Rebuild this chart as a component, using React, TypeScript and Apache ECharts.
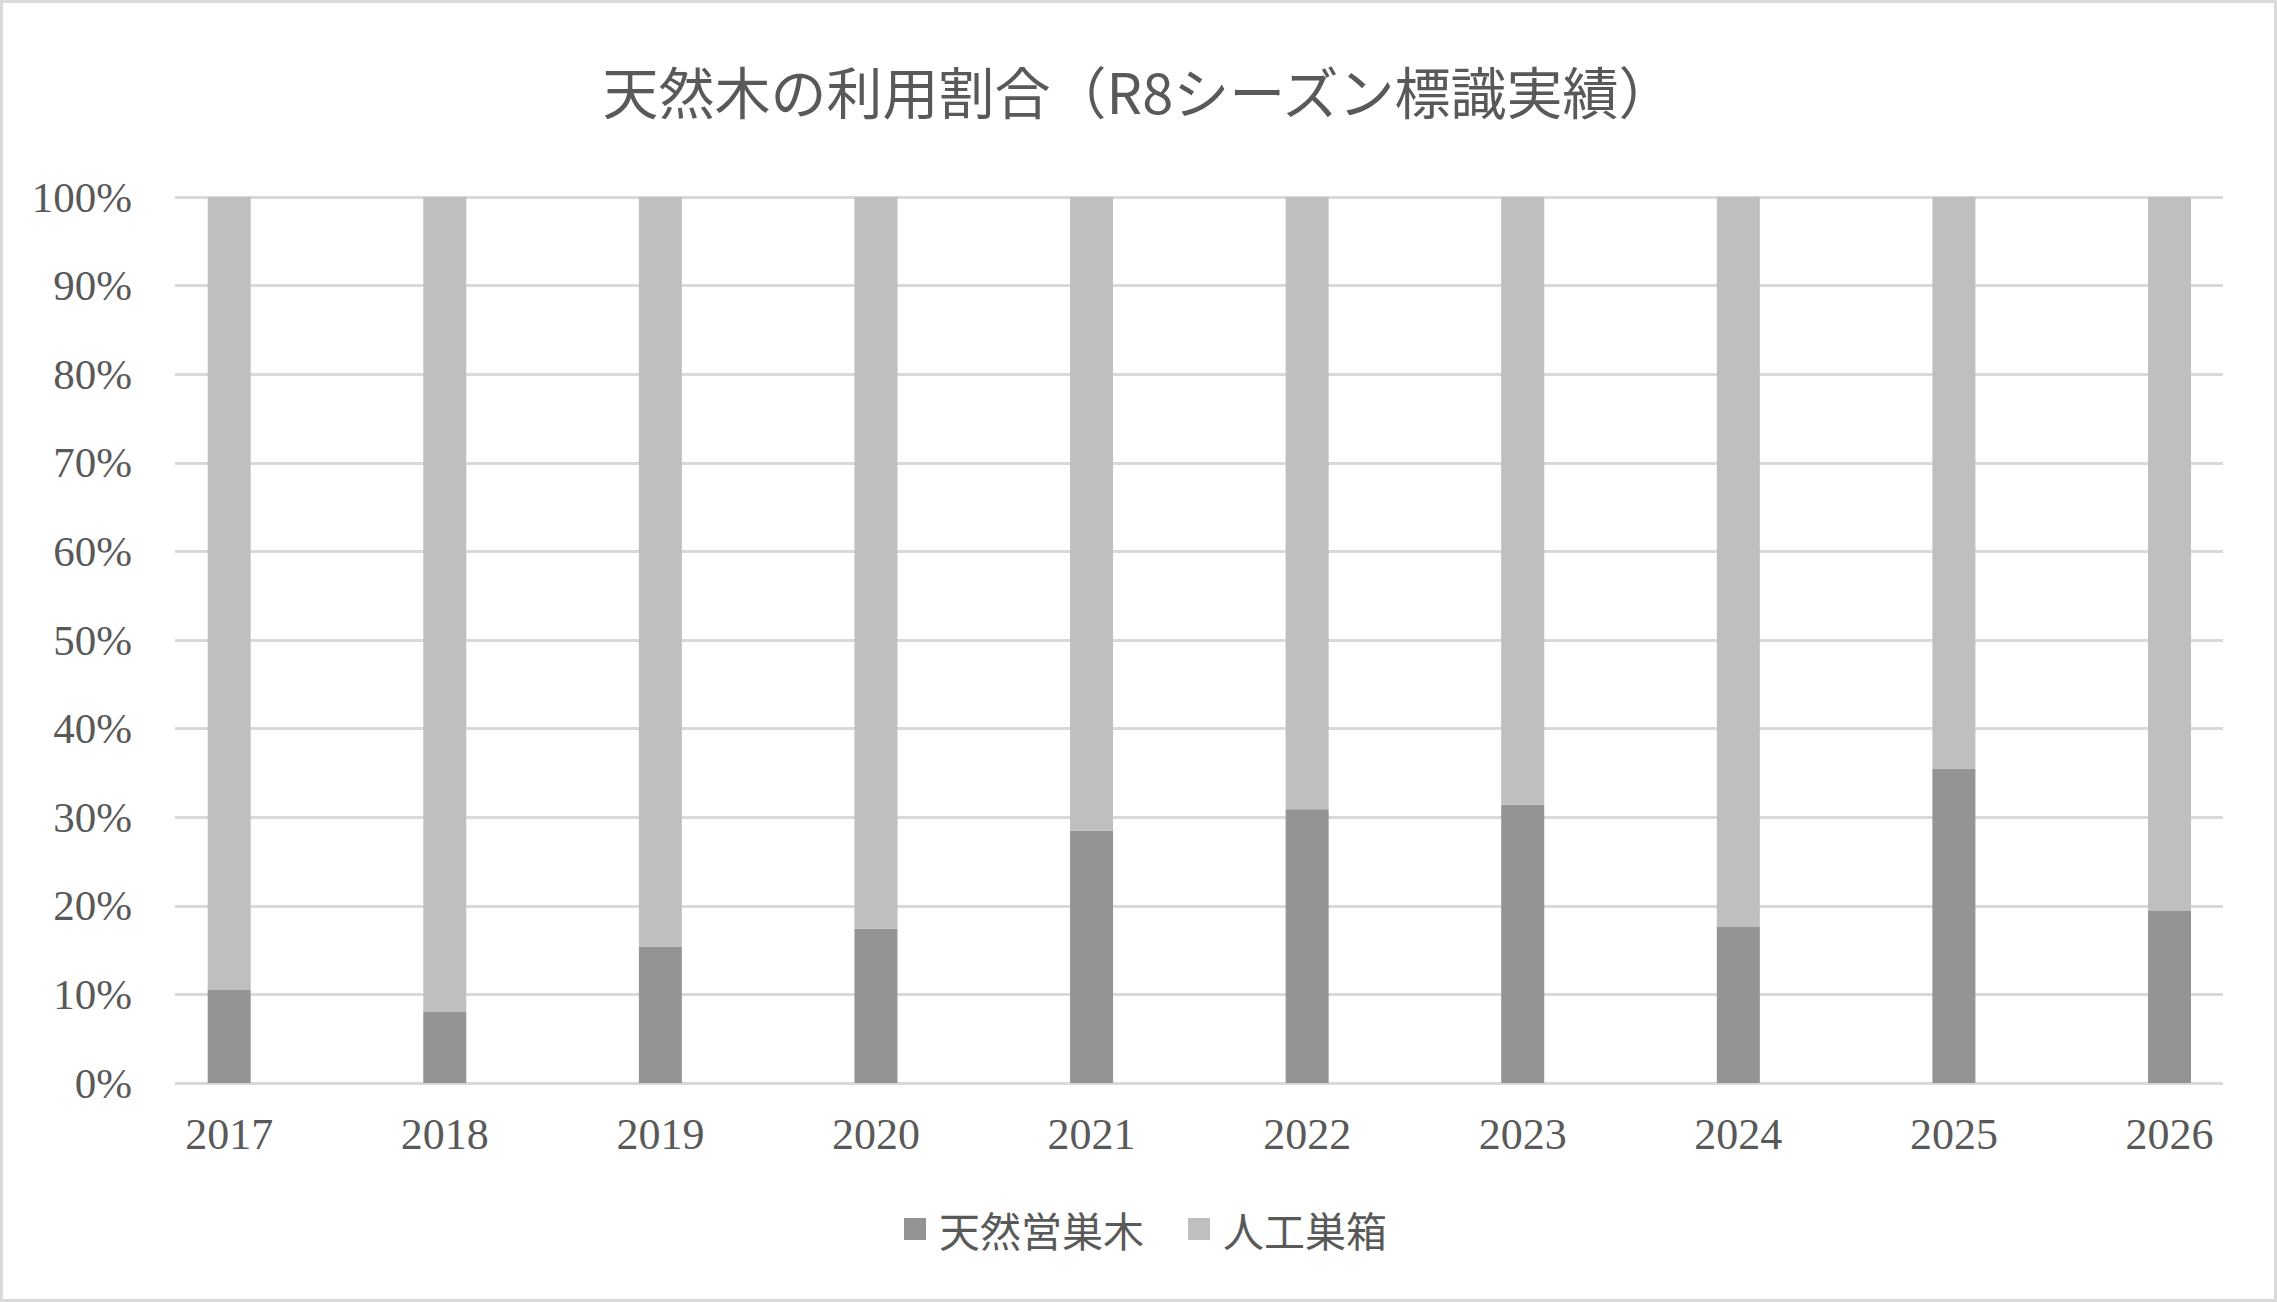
import React, { useEffect, useRef } from "react";
import * as echarts from "echarts";

const TITLE = "天然木の利用割合（R8シーズン標識実績）";
const years = ["2017", "2018", "2019", "2020", "2021", "2022", "2023", "2024", "2025", "2026"];
const seriesNames = ["天然営巣木", "人工巣箱"];
const naturalShare = [10.5, 8.0, 15.4, 17.4, 28.5, 30.9, 31.4, 17.6, 35.5, 19.4];
const artificialShare = [89.5, 92.0, 84.6, 82.6, 71.5, 69.1, 68.6, 82.4, 64.5, 80.6];
const yTicks = [0, 10, 20, 30, 40, 50, 60, 70, 80, 90, 100];

const W = 2277;
const H = 1302;
const TEXT = "#595959";
const GRID = "#D9D9D9";
const DARK = "#949494";
const LIGHT = "#BFBFBF";
const CJK = "'Noto Sans CJK JP', 'Noto Sans', sans-serif";
const SERIF = "'Liberation Serif', 'DejaVu Serif', serif";

export default function App() {
  const ref = useRef<HTMLDivElement>(null);
  useEffect(() => {
    document.body.style.margin = "0";
    document.body.style.overflow = "hidden";
    if (!ref.current) return;
    const chart = echarts.init(ref.current, undefined, { renderer: "svg" });
    const yMin = yTicks[0];
    const yMax = yTicks[yTicks.length - 1];
    chart.setOption({
      animation: false,
      backgroundColor: "#ffffff",
      title: {
        text: TITLE,
        left: "center",
        top: 56,
        textStyle: { fontFamily: CJK, fontSize: 56, fontWeight: "normal", color: TEXT },
      },
      legend: {
        data: seriesNames,
        left: 899,
        top: 1202,
        icon: "rect",
        itemWidth: 22,
        itemHeight: 22,
        itemGap: 44,
        textStyle: { fontFamily: CJK, fontSize: 41, color: TEXT, lineHeight: 44, padding: [0, 0, 0, 8] },
      },
      grid: [
        { left: 175, right: 54, top: 197, bottom: 219, containLabel: false },
        { left: 229.2, right: 107.5, top: 197, bottom: 219, containLabel: false },
      ],
      xAxis: [
        {
          type: "category",
          gridIndex: 0,
          data: years,
          show: false,
        },
        {
          type: "category",
          gridIndex: 1,
          data: years,
          boundaryGap: false,
          axisLine: { show: false },
          axisTick: { show: false },
          splitLine: { show: false },
          axisLabel: { margin: 29, fontFamily: SERIF, fontSize: 44, color: TEXT, interval: 0 },
        },
      ],
      yAxis: [
        {
          type: "value",
          gridIndex: 0,
          min: yMin,
          max: yMax,
          interval: 10,
          axisLine: { show: false },
          axisTick: { show: false },
          splitLine: { lineStyle: { color: GRID, width: 3 } },
          axisLabel: { margin: 43, fontFamily: SERIF, fontSize: 43, color: TEXT, formatter: "{value}%" },
        },
        {
          type: "value",
          gridIndex: 1,
          min: yMin,
          max: yMax,
          interval: 10,
          show: false,
          splitLine: { show: false },
        },
      ],
      graphic: [
        {
          type: "rect",
          shape: { x: 1.5, y: 1.5, width: W - 3, height: H - 3 },
          style: { fill: "none", stroke: GRID, lineWidth: 3 },
          silent: true,
        },
      ],
      series: [
        {
          name: seriesNames[0],
          type: "bar",
          xAxisIndex: 1,
          yAxisIndex: 1,
          stack: "total",
          barWidth: 43,
          clip: false,
          itemStyle: { color: DARK },
          data: naturalShare,
        },
        {
          name: seriesNames[1],
          type: "bar",
          xAxisIndex: 1,
          yAxisIndex: 1,
          stack: "total",
          barWidth: 43,
          clip: false,
          itemStyle: { color: LIGHT },
          data: artificialShare,
        },
      ],
    });
    return () => chart.dispose();
  }, []);
  return <div ref={ref} style={{ width: W, height: H }} />;
}
